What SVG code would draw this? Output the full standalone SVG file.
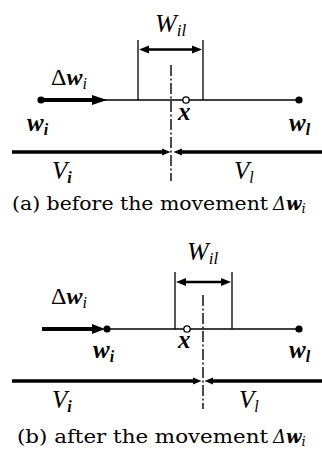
<svg xmlns="http://www.w3.org/2000/svg" width="322" height="454" viewBox="0 0 322 454">
<style>
.thin{stroke:#000;stroke-width:1.3;fill:none}
.thick{stroke:#000;stroke-width:4.2;fill:none}
.vline{stroke:#000;stroke-width:3.4;fill:none}
.dim{stroke:#000;stroke-width:2.6;fill:none}
.dd{stroke:#000;stroke-width:1.4;fill:none;stroke-dasharray:11 2.5 2 2.5}
.head{fill:#000}
.dot{fill:#000}
.ring{fill:#fff;stroke:#000;stroke-width:1.3}
.m{font-family:"Liberation Serif","Times New Roman",serif;font-style:italic;fill:#000}
.mb{font-family:"Liberation Serif","Times New Roman",serif;font-style:italic;font-weight:bold;fill:#000}
.up{font-family:"Liberation Serif","Times New Roman",serif;fill:#000}
.cap{font-family:"DejaVu Serif","Liberation Serif",serif;font-size:18px;fill:#000}
</style>

<!-- Panel (a) -->
<g id="panel-a">
  <g id="connectors-a">
    <line class="thin" x1="41" y1="100" x2="300" y2="100"/>
    <line class="thin" x1="138" y1="40" x2="138" y2="100"/>
    <line class="thin" x1="203" y1="40" x2="203" y2="100"/>
    <line class="dim" x1="146" y1="49.5" x2="195" y2="49.5"/>
    <polygon class="head" points="139,49.5 149,45.5 149,53.5"/>
    <polygon class="head" points="202,49.5 192,45.5 192,53.5"/>
    <line class="dd" x1="171" y1="65" x2="171" y2="181"/>
    <line class="thick" x1="41" y1="100" x2="94" y2="100"/>
    <polygon class="head" points="92,95 107,100 92,105"/>
    <line class="vline" x1="12" y1="152" x2="164" y2="152"/>
    <polygon class="head" points="162,148.5 170.5,152 162,155.5"/>
    <line class="vline" x1="180" y1="152" x2="322" y2="152"/>
    <polygon class="head" points="182,148.5 173.5,152 182,155.5"/>
  </g>
  <g id="node-wi-a"><circle class="dot" cx="41" cy="100" r="3.6"/><text class="mb" x="27" y="131" font-size="25">w<tspan font-size="16" dy="4">i</tspan></text></g>
  <g id="node-wl-a"><circle class="dot" cx="299" cy="100" r="3.6"/><text class="mb" x="289" y="131" font-size="25">w<tspan font-size="16" dy="4">l</tspan></text></g>
  <g id="node-x-a"><circle class="ring" cx="186" cy="100" r="3.2"/><text class="mb" x="178" y="120" font-size="25">x</text></g>
  <text class="up" x="51" y="85" font-size="24">Δ<tspan class="mb">w</tspan><tspan class="m" font-size="16" dy="4">i</tspan></text>
  <text class="m" x="155" y="32" font-size="26">W<tspan font-size="17" dy="4">il</tspan></text>
  <text class="m" x="52" y="179" font-size="25">V<tspan class="mb" font-size="16" dy="4">i</tspan></text>
  <text class="m" x="234" y="179" font-size="25">V<tspan font-size="16" dy="4">l</tspan></text>
  <text class="cap" x="12" y="210"><tspan textLength="256" lengthAdjust="spacingAndGlyphs">(a) before the movement</tspan><tspan x="273" font-style="italic">Δ</tspan><tspan font-style="italic" font-weight="bold">w</tspan><tspan font-style="italic" font-size="13" dy="3">i</tspan></text>
</g>

<!-- Panel (b) -->
<g id="panel-b">
  <g id="connectors-b">
    <line class="thin" x1="107" y1="329" x2="300" y2="329"/>
    <line class="thin" x1="175" y1="272" x2="175" y2="329"/>
    <line class="thin" x1="232" y1="272" x2="232" y2="329"/>
    <line class="dim" x1="183" y1="282" x2="224" y2="282"/>
    <polygon class="head" points="176,282 186,278 186,286"/>
    <polygon class="head" points="231,282 221,278 221,286"/>
    <line class="dd" x1="203" y1="295" x2="203" y2="409"/>
    <line class="thick" x1="42" y1="329" x2="94" y2="329"/>
    <polygon class="head" points="92,324 105,329 92,334"/>
    <line class="vline" x1="12" y1="381" x2="194" y2="381"/>
    <polygon class="head" points="193,377.5 201.5,381 193,384.5"/>
    <line class="vline" x1="212" y1="381" x2="322" y2="381"/>
    <polygon class="head" points="213,377.5 204.5,381 213,384.5"/>
  </g>
  <g id="node-wi-b"><circle class="dot" cx="107" cy="329" r="3.6"/><text class="mb" x="93" y="358" font-size="25">w<tspan font-size="16" dy="4">i</tspan></text></g>
  <g id="node-wl-b"><circle class="dot" cx="299" cy="329" r="3.6"/><text class="mb" x="289" y="358" font-size="25">w<tspan font-size="16" dy="4">l</tspan></text></g>
  <g id="node-x-b"><circle class="ring" cx="187" cy="329" r="3.2"/><text class="mb" x="178" y="348" font-size="25">x</text></g>
  <text class="up" x="51" y="304" font-size="24">Δ<tspan class="mb">w</tspan><tspan class="m" font-size="16" dy="4">i</tspan></text>
  <text class="m" x="187" y="260" font-size="26">W<tspan font-size="17" dy="4">il</tspan></text>
  <text class="m" x="52" y="408" font-size="25">V<tspan class="mb" font-size="16" dy="4">i</tspan></text>
  <text class="m" x="239" y="408" font-size="25">V<tspan font-size="16" dy="4">l</tspan></text>
  <text class="cap" x="17" y="443"><tspan textLength="251" lengthAdjust="spacingAndGlyphs">(b) after the movement</tspan><tspan x="273" font-style="italic">Δ</tspan><tspan font-style="italic" font-weight="bold">w</tspan><tspan font-style="italic" font-size="13" dy="3">i</tspan></text>
</g>
</svg>
